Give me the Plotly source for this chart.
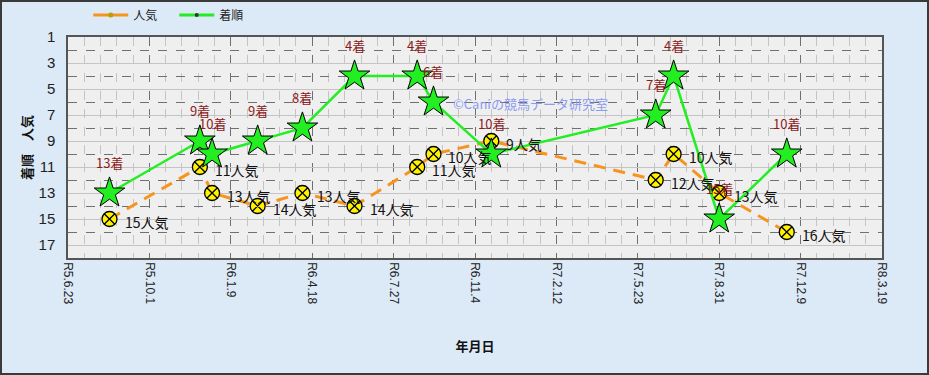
import plotly.graph_objects as go

# ---- data ----
race_dates = ["2023-08-13", "2023-12-02", "2023-12-17", "2024-02-11", "2024-04-06",
              "2024-06-09", "2024-08-25", "2024-09-14", "2024-11-24", "2025-06-14",
              "2025-07-06", "2025-08-31", "2025-11-22"]
rank = [13, 9, 10, 9, 8, 4, 4, 6, 10, 7, 4, 15, 10]
popularity = [15, 11, 13, 14, 13, 14, 11, 10, 9, 12, 10, 13, 16]

tick_dates = ["2023-06-23", "2023-10-01", "2024-01-09", "2024-04-18", "2024-07-27",
              "2024-11-04", "2025-02-12", "2025-05-23", "2025-08-31", "2025-12-09",
              "2026-03-19"]
tick_labels = ["R5.6.23", "R5.10.1", "R6.1.9", "R6.4.18", "R6.7.27", "R6.11.4",
               "R7.2.12", "R7.5.23", "R7.8.31", "R7.12.9", "R8.3.19"]
y_ticks = [1, 3, 5, 7, 9, 11, 13, 15, 17]

JP = "Noto Sans CJK JP"
DAY_MS = 86400000

fig = go.Figure()

# 人気 trace
fig.add_trace(go.Scatter(
    x=race_dates, y=popularity, mode="lines+markers", showlegend=False,
    line=dict(color="#F7941D", width=3, dash="12px,8px"),
    marker=dict(symbol="circle-x", size=15, color="#FFF200",
                line=dict(color="#000000", width=1.3)),
))
# 着順 trace
fig.add_trace(go.Scatter(
    x=race_dates, y=rank, mode="lines+markers", showlegend=False,
    line=dict(color="#22EE22", width=2.5),
    marker=dict(symbol="star", size=23, color="#22EE22",
                line=dict(color="#000000", width=1)),
))
# legend entries
fig.add_trace(go.Scatter(
    x=[None], y=[None], mode="lines+markers", name="人気　",
    line=dict(color="#F7941D", width=3),
    marker=dict(symbol="circle", size=5, color="#B8A000"),
))
fig.add_trace(go.Scatter(
    x=[None], y=[None], mode="lines+markers", name="着順",
    line=dict(color="#22EE22", width=3),
    marker=dict(symbol="circle", size=4, color="#333333"),
))

annotations = []
for d, r in zip(race_dates, rank):
    annotations.append(dict(
        x=d, y=r, xref="x", yref="y", text=f"{r}着", showarrow=False,
        yshift=31, font=dict(family=JP, size=13, color="#8B1A1A"),
    ))
for d, p in zip(race_dates, popularity):
    annotations.append(dict(
        x=d, y=p, xref="x", yref="y", text=f"{p}人気", showarrow=False,
        xanchor="left", xshift=13, yshift=-3,
        font=dict(family=JP, size=14, color="#111111"),
    ))
annotations.append(dict(
    x=0.568, y=0.75, xref="paper", yref="paper", text="©Caniの競馬データ研究室",
    showarrow=False, font=dict(family=JP, size=13, color="#8C9CF0"),
))

fig.update_layout(
    width=929, height=375,
    margin=dict(l=68, r=47, t=37, b=117, autoexpand=False),
    paper_bgcolor="#DCEAF7",
    plot_bgcolor="#EFEFEF",
    font=dict(family="Liberation Sans, Arial", color="#222222"),
    annotations=annotations,
    legend=dict(orientation="h", xref="container", yref="container",
                x=0.095, y=1 - 15 / 375, xanchor="left", yanchor="middle",
                font=dict(family=JP, size=12, color="#222222"),
                bgcolor="rgba(0,0,0,0)", itemwidth=35),
    shapes=[dict(type="rect", xref="paper", yref="paper",
                 x0=-67 / 814, x1=1 + 46 / 814, y0=-116 / 221, y1=1 + 36 / 221,
                 line=dict(color="#3A3A3A", width=2), layer="below")],
)

fig.update_xaxes(
    type="date", range=["2023-06-23", "2026-03-19"],
    tickmode="array", tickvals=tick_dates, ticktext=tick_labels, tickangle=90,
    tickfont=dict(size=12, color="#222222"),
    showgrid=True, gridcolor="#707070", griddash="dash", gridwidth=1,
    minor=dict(tick0="2023-06-23", dtick=20 * DAY_MS, showgrid=True,
               gridcolor="#C4C4C4", gridwidth=1),
    showline=True, linecolor="#555555", linewidth=1.5, mirror=True,
    ticks="", zeroline=False,
    title=dict(text="<b>年月日</b>", font=dict(family=JP, size=13, color="#111111"),
               standoff=38),
)
fig.update_yaxes(
    range=[18, 1], tickmode="array", tickvals=y_ticks,
    tickfont=dict(size=15, color="#222222"),
    showgrid=True, gridcolor="#C4C4C4", gridwidth=1,
    minor=dict(tickmode="linear", tick0=0, dtick=2, showgrid=True, gridcolor="#707070",
               griddash="dash", gridwidth=1),
    showline=True, linecolor="#555555", linewidth=1.5, mirror=True,
    ticks="", zeroline=False, ticklabelstandoff=8,
    title=dict(text="<b>着順　人気</b>", font=dict(family=JP, size=13, color="#111111"),
               standoff=3),
)

fig.write_html("out.html")
